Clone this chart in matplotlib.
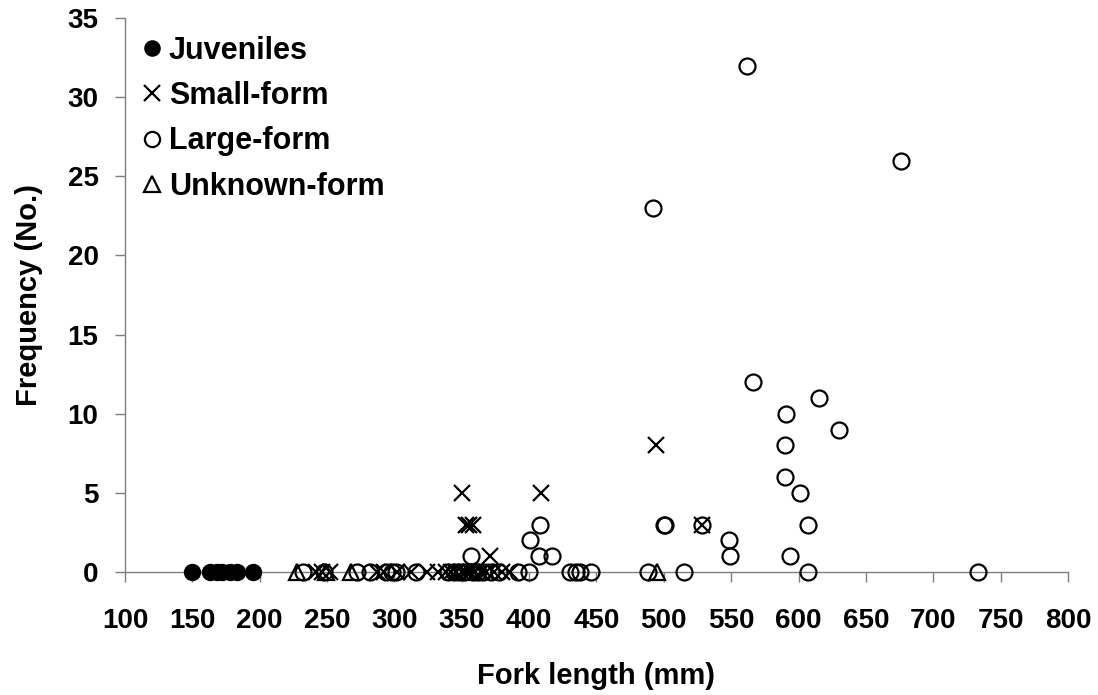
import matplotlib.pyplot as plt

# fork length (mm) and frequency
juv_x = [150, 163, 168, 172, 178, 183, 195]
juv_y = [0, 0, 0, 0, 0, 0, 0]

small_x = [242, 246, 252, 287, 292, 302, 312, 324, 332, 338, 342, 346, 350, 353,
           356, 360, 364, 368, 374, 380, 386,
           350, 409, 353, 355, 358, 371, 494, 528]
small_y = [0, 0, 0, 0, 0, 0, 0, 0, 0, 0, 0, 0, 0, 0,
           0, 0, 0, 0, 0, 0, 0,
           5, 5, 3, 3, 3, 1, 8, 3]

large_x = [232, 248, 272, 282, 294, 298, 301, 316, 340, 344, 348, 352, 358, 362,
           366, 372, 378, 392, 400, 430, 435, 438, 446, 488, 515, 607, 733,
           357, 407, 417, 401, 408, 492, 500, 501, 528, 548, 549, 562, 566,
           590, 590, 591, 594, 601, 607, 615, 630, 676]
large_y = [0, 0, 0, 0, 0, 0, 0, 0, 0, 0, 0, 0, 0, 0,
           0, 0, 0, 0, 0, 0, 0, 0, 0, 0, 0, 0, 0,
           1, 1, 1, 2, 3, 23, 3, 3, 3, 2, 1, 32, 12,
           6, 8, 10, 1, 5, 3, 11, 9, 26]

unk_x = [228, 249, 268, 357, 495]
unk_y = [0, 0, 0, 0, 0]

x_ticks = list(range(100, 801, 50))
y_ticks = list(range(0, 36, 5))

plt.rcParams["font.family"] = ["Liberation Sans", "DejaVu Sans"]
plt.rcParams["font.weight"] = "bold"

fig = plt.figure(figsize=(10.98, 6.95), dpi=100)
ax = fig.add_axes([0.1138, 0.177, 0.9727 - 0.1138, 0.974 - 0.177])

ms = 11.5
ax.plot(juv_x, juv_y, "o", ms=ms, color="black", ls="none", label="Juveniles",
        clip_on=False, zorder=3)
ax.plot(small_x, small_y, "x", ms=ms, mew=1.6, color="black", ls="none",
        label="Small-form", clip_on=False, zorder=3)
ax.plot(large_x, large_y, "o", ms=ms, mew=1.6, mfc="none", mec="black", ls="none",
        label="Large-form", clip_on=False, zorder=3)
ax.plot(unk_x, unk_y, "^", ms=ms, mew=1.6, mfc="none", mec="black", ls="none",
        label="Unknown-form", clip_on=False, zorder=3)

ax.set_xlim(100, 800)
ax.set_ylim(0, 35)
ax.set_xticks(x_ticks)
ax.set_yticks(y_ticks)

for s in ["top", "right"]:
    ax.spines[s].set_visible(False)
for s in ["left", "bottom"]:
    ax.spines[s].set_color("#7f7f7f")
    ax.spines[s].set_linewidth(1.0)

ax.tick_params(axis="x", direction="out", length=7, width=1, color="#7f7f7f",
               labelsize=20, pad=19)
ax.tick_params(axis="y", direction="out", length=7, width=1, color="#7f7f7f",
               labelsize=20, pad=12)

ax.set_xlabel("Fork length (mm)", fontsize=21, fontweight="bold", labelpad=20)
ax.set_ylabel("Frequency (No.)", fontsize=21, fontweight="bold", labelpad=18)

leg = ax.legend(loc="upper left", bbox_to_anchor=(0.006, 0.99), frameon=False,
                fontsize=22, markerscale=0.95, handlelength=0.6, handletextpad=0.25,
                labelspacing=0.5, borderaxespad=0.0)
for t in leg.get_texts():
    t.set_fontweight("bold")

fig.savefig("out.png", dpi=100)
